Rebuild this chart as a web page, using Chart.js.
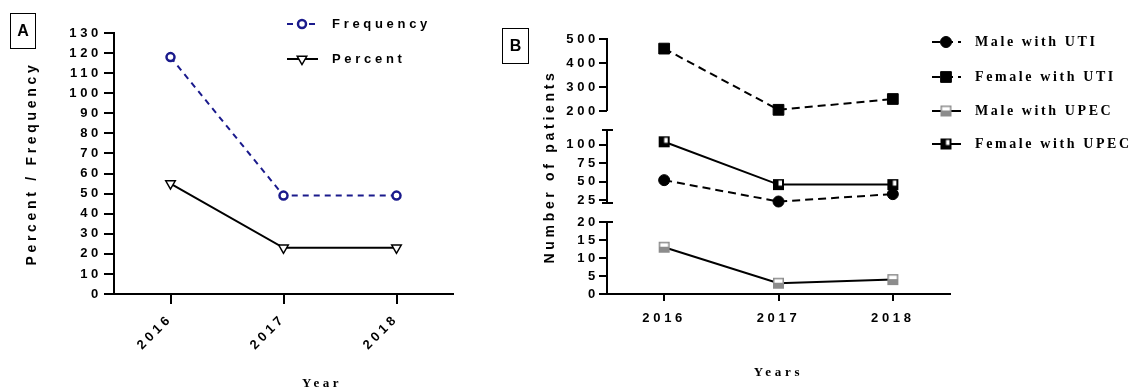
<!DOCTYPE html>
<html><head><meta charset="utf-8">
<script src="https://cdn.jsdelivr.net/npm/chart.js@4.4.1/dist/chart.umd.min.js"></script>
<style>
html,body{margin:0;padding:0;background:#fff;width:1131px;height:391px;overflow:hidden;}
.wrap{position:absolute;top:0;height:391px;}
#wa{left:0;width:480px;} #wb{left:480px;width:651px;}
canvas{display:block;}
</style></head><body>
<div class="wrap" id="wa"><canvas id="ca" width="480" height="391"></canvas></div>
<div class="wrap" id="wb"><canvas id="cb" width="651" height="391"></canvas></div>
<script>
// ---------- data ----------
const years = ['2016', '2017', '2018'];
const frequency = [118, 49, 49];
const percent = [55, 23, 23];
const yTicksA = [0, 10, 20, 30, 40, 50, 60, 70, 80, 90, 100, 110, 120, 130];

const maleUTI = [52, 23, 33];
const femaleUTI = [460, 205, 250];
const maleUPEC = [13, 3, 4];
const femaleUPEC = [104, 46, 46];
const yTicksB = [0, 5, 10, 15, 20, 25, 50, 75, 100, 200, 300, 400, 500];

// ---------- styles / layout ----------
const NAVY = '#1a1a8c';
const SANS = 'Liberation Sans';
const SERIF = 'Liberation Serif';
const SP = '3.7px';
// broken axis: value ranges and their share of the axis height (top -> bottom)
const brokenSegments = [
  {min: 200, max: 500, from: 0 / 255, to: 72 / 255},
  {min: 21, max: 120, from: 91 / 255, to: 164 / 255},
  {min: 0, max: 20, from: 183 / 255, to: 255 / 255}
];

class BrokenScale extends Chart.LinearScale {
  static id = 'broken';
  determineDataLimits() { this.min = 0; this.max = 500; }
  buildTicks() { return yTicksB.map(v => ({value: v})); }
  _seg(v) {
    let best = brokenSegments[0], d = Infinity;
    for (const s of brokenSegments) {
      if (v >= s.min && v <= s.max) return s;
      const dd = Math.min(Math.abs(v - s.min), Math.abs(v - s.max));
      if (dd < d) { d = dd; best = s; }
    }
    return best;
  }
  getPixelForValue(v) {
    const s = this._seg(v);
    const h = this.bottom - this.top;
    const t = (v - s.min) / (s.max - s.min);
    return this.top + h * (s.to - t * (s.to - s.from));
  }
  getValueForPixel(p) {
    const h = this.bottom - this.top;
    const f = (p - this.top) / h;
    for (const s of brokenSegments) {
      if (f >= s.from && f <= s.to) return s.min + (s.to - f) / (s.to - s.from) * (s.max - s.min);
    }
    return 0;
  }
}
Chart.register(BrokenScale);

function squareMarker(kind) {
  const c = document.createElement('canvas'); c.width = 13; c.height = 13;
  const g = c.getContext('2d');
  if (kind === 'male') {
    g.fillStyle = '#8c8c8c'; g.fillRect(1, 1, 11, 11);
    g.fillStyle = '#ffffff'; g.fillRect(2.5, 2.5, 8, 3.5);
  } else {
    g.fillStyle = '#000000'; g.fillRect(1, 1, 11, 11);
    g.fillStyle = '#ffffff'; g.fillRect(6.5, 2.5, 3.5, 5);
  }
  return c;
}

const spacing = {id: 'spacing', beforeDraw(chart) { chart.ctx.letterSpacing = SP; }};

function drawLegendItem(ctx, ds, x0, x1, xm, y, label, font, ls, tx) {
  ctx.save();
  ctx.strokeStyle = ds.borderColor; ctx.lineWidth = ds.borderWidth;
  ctx.setLineDash(ds.borderDash || []);
  ctx.beginPath(); ctx.moveTo(x0, y); ctx.lineTo(x1, y); ctx.stroke();
  ctx.setLineDash([]);
  ctx.fillStyle = ds.pointBackgroundColor; ctx.strokeStyle = ds.pointBorderColor || ds.borderColor;
  ctx.lineWidth = ds.pointBorderWidth;
  Chart.helpers.drawPoint(ctx, {pointStyle: ds.pointStyle, rotation: ds.pointRotation || 0,
    radius: ds.pointRadius, borderWidth: ds.pointBorderWidth}, xm, y);
  ctx.letterSpacing = ls;
  ctx.fillStyle = '#000'; ctx.font = font; ctx.textAlign = 'left'; ctx.textBaseline = 'middle';
  ctx.fillText(label, tx, y);
  ctx.restore();
}

function panelBox(ctx, x, y, w, h, letter) {
  ctx.save();
  ctx.strokeStyle = '#000'; ctx.lineWidth = 1;
  ctx.strokeRect(x + 0.5, y + 0.5, w, h);
  ctx.letterSpacing = '0px';
  ctx.fillStyle = '#000'; ctx.font = 'bold 16px ' + SANS;
  ctx.textAlign = 'center'; ctx.textBaseline = 'middle';
  ctx.fillText(letter, x + w / 2 + 0.5, y + h / 2 + 1);
  ctx.restore();
}

const tickFont = {family: SANS, size: 13, weight: 'bold'};
const titleFont = {family: SANS, size: 14, weight: 'bold'};

// ---------- Panel A ----------
const decorA = {
  id: 'decorA',
  afterDraw(chart) {
    const ctx = chart.ctx;
    const ds = chart.data.datasets;
    drawLegendItem(ctx, ds[0], 287, 318, 302, 24, ds[0].label, 'bold 13px ' + SANS, SP, 332);
    drawLegendItem(ctx, ds[1], 287, 318, 302, 59, ds[1].label, 'bold 13px ' + SANS, SP, 332);
    panelBox(ctx, 10, 13, 25, 35, 'A');
    ctx.save();
    ctx.letterSpacing = '3.5px';
    ctx.fillStyle = '#000'; ctx.font = 'bold 13px ' + SERIF;
    ctx.textAlign = 'center'; ctx.textBaseline = 'middle';
    ctx.fillText('Year', 322, 384);
    ctx.restore();
  }
};

new Chart(document.getElementById('ca'), {
  type: 'line',
  data: {
    labels: years,
    datasets: [
      {label: 'Frequency', data: frequency, borderColor: NAVY, borderWidth: 2, borderDash: [6, 5],
       pointStyle: 'circle', pointRadius: 4, pointBorderWidth: 2.5, pointBackgroundColor: '#fff',
       pointBorderColor: NAVY, fill: false, tension: 0},
      {label: 'Percent', data: percent, borderColor: '#000', borderWidth: 2,
       pointStyle: 'triangle', pointRotation: 180, pointRadius: 5.5, pointBorderWidth: 1.5,
       pointBackgroundColor: '#fff', pointBorderColor: '#000', fill: false, tension: 0}
    ]
  },
  options: {
    responsive: false, animation: false, devicePixelRatio: 1,
    layout: {padding: {left: 0, top: 33, right: 27, bottom: 0}},
    plugins: {legend: {display: false}, tooltip: {enabled: false}},
    scales: {
      x: {
        type: 'category', offset: true,
        grid: {display: true, drawOnChartArea: false, offset: false, tickLength: 10, color: '#000', lineWidth: 2},
        border: {display: true, color: '#000', width: 2},
        ticks: {color: '#000', font: tickFont, minRotation: 45, maxRotation: 45, padding: 7, autoSkip: false},
        afterFit(s) { s.height = 97; }
      },
      y: {
        type: 'linear', min: 0, max: 130,
        afterBuildTicks(s) { s.ticks = yTicksA.map(v => ({value: v})); },
        grid: {display: true, drawOnChartArea: false, tickLength: 10, color: '#000', lineWidth: 2},
        border: {display: true, color: '#000', width: 2},
        ticks: {color: '#000', font: tickFont, padding: 2, autoSkip: false},
        title: {display: true, text: 'Percent / Frequency', color: '#000', font: titleFont, padding: {top: 23.6}},
        afterFit(s) { s.width = 114; }
      }
    }
  },
  plugins: [spacing, decorA]
});

// ---------- Panel B ----------
const decorB = {
  id: 'decorB',
  beforeDatasetsDraw(chart) {
    const ctx = chart.ctx, ys = chart.scales.y;
    const x = chart.chartArea.left;
    const h = ys.bottom - ys.top;
    ctx.save();
    ctx.strokeStyle = '#000'; ctx.lineWidth = 2; ctx.lineCap = 'butt';
    brokenSegments.forEach((s, i) => {
      const y0 = ys.top + h * s.from, y1 = ys.top + h * s.to;
      ctx.beginPath(); ctx.moveTo(x, y0 - (i === 0 ? 1 : 0)); ctx.lineTo(x, y1 + (i === 2 ? 1 : 0)); ctx.stroke();
      if (i > 0) { ctx.beginPath(); ctx.moveTo(x - 5, y0); ctx.lineTo(x + 6, y0); ctx.stroke(); }
      if (i < 2 && i > 0) { ctx.beginPath(); ctx.moveTo(x - 5, y1); ctx.lineTo(x + 6, y1); ctx.stroke(); }
    });
    ctx.restore();
  },
  afterDraw(chart) {
    const ctx = chart.ctx;
    const ds = chart.data.datasets;
    const ly = [42, 77, 111, 144];
    ds.forEach((d, i) => drawLegendItem(ctx, d, 452, 481, 466, ly[i], d.label, 'bold 14px ' + SERIF, '2.6px', 495));
    panelBox(ctx, 22, 28, 26, 35, 'B');
  }
};

new Chart(document.getElementById('cb'), {
  type: 'line',
  data: {
    labels: years,
    datasets: [
      {label: 'Male with UTI', data: maleUTI, borderColor: '#000', borderWidth: 2, borderDash: [8, 5],
       pointStyle: 'circle', pointRadius: 5.5, pointBorderWidth: 1, pointBackgroundColor: '#000',
       pointBorderColor: '#000', fill: false, tension: 0},
      {label: 'Female with UTI', data: femaleUTI, borderColor: '#000', borderWidth: 2, borderDash: [8, 5],
       pointStyle: 'rect', pointRadius: 7.6, pointBorderWidth: 1, pointBackgroundColor: '#000',
       pointBorderColor: '#000', fill: false, tension: 0},
      {label: 'Male with UPEC', data: maleUPEC, borderColor: '#000', borderWidth: 2,
       pointStyle: squareMarker('male'), pointRadius: 6, pointBorderWidth: 0, pointBackgroundColor: '#8c8c8c',
       pointBorderColor: '#8c8c8c', fill: false, tension: 0},
      {label: 'Female with UPEC', data: femaleUPEC, borderColor: '#000', borderWidth: 2,
       pointStyle: squareMarker('female'), pointRadius: 6, pointBorderWidth: 0, pointBackgroundColor: '#000',
       pointBorderColor: '#000', fill: false, tension: 0}
    ]
  },
  options: {
    responsive: false, animation: false, devicePixelRatio: 1,
    layout: {padding: {left: 0, top: 39, right: 181, bottom: 0}},
    plugins: {legend: {display: false}, tooltip: {enabled: false}},
    scales: {
      x: {
        type: 'category', offset: true,
        grid: {display: true, drawOnChartArea: false, offset: false, tickLength: 7, color: '#000', lineWidth: 2},
        border: {display: true, color: '#000', width: 2},
        ticks: {color: '#000', font: tickFont, maxRotation: 0, minRotation: 0, padding: 10, autoSkip: false},
        title: {display: true, text: 'Years', color: '#000', font: {family: SERIF, size: 13, weight: 'bold'}, padding: {bottom: 11}},
        afterFit(s) { s.height = 97; }
      },
      y: {
        type: 'broken',
        grid: {display: true, drawOnChartArea: false, tickLength: 8, color: '#000', lineWidth: 2},
        border: {display: false},
        ticks: {color: '#000', font: tickFont, padding: 0, autoSkip: false, callback: v => String(v)},
        title: {display: true, text: 'Number of patients', color: '#000', font: titleFont, padding: {top: 61.6}},
        afterFit(s) { s.width = 127; }
      }
    }
  },
  plugins: [spacing, decorB]
});
</script>
</body></html>
